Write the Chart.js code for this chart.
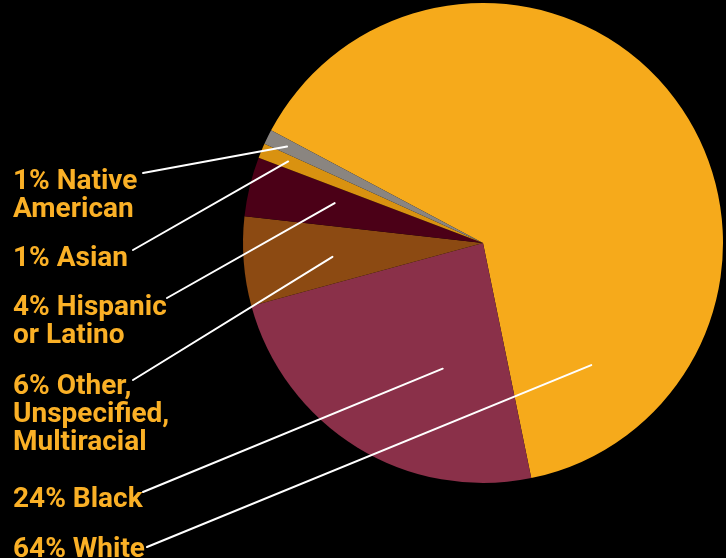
<!DOCTYPE html>
<html>
<head>
<meta charset="utf-8">
<script src="https://cdn.jsdelivr.net/npm/chart.js@4.4.1/dist/chart.umd.min.js"></script>
<style>
  html, body { margin: 0; padding: 0; background: #000; }
  #wrap { width: 726px; height: 558px; position: relative; }
</style>
</head>
<body>
<div id="wrap"><canvas id="race-chart"></canvas></div>
<script>
// data, in drawing order (clockwise from the gray slice edge)
const categories = ["White", "Black", "Other, Unspecified, Multiracial", "Hispanic or Latino", "Asian", "Native American"];
const shares = [64, 24, 6, 4, 1, 1];
const labelLines = [["64% White"], ["24% Black"], ["6% Other,", "Unspecified,", "Multiracial"], ["4% Hispanic", "or Latino"], ["1% Asian"], ["1% Native", "American"]];
const sliceColors = ["#F6AA1B", "#8A3049", "#8C4A12", "#4B0017", "#D99210", "#8A8580"];

// where each label sits on the left and where its leader line hits the slice
const labelLayout = [
  { x: 13, y: 557, lineFrom: [147, 547], t: 0.87, r: 0.68 },
  { x: 13, y: 507, lineFrom: [143, 492], t: 0.34, r: 0.55 },
  { x: 13, y: 394, lineFrom: [133, 380], t: 0.46, r: 0.63 },
  { x: 13, y: 315, lineFrom: [167, 298], t: 0.6, r: 0.64 },
  { x: 13, y: 266, lineFrom: [133, 250], t: 0.53, r: 0.88 },
  { x: 13, y: 189, lineFrom: [143, 173], t: 0.5, r: 0.91 }
];

const calloutPlugin = {
  id: "callouts",
  beforeDraw(chart) {
    const c = chart.ctx;
    c.save();
    c.fillStyle = "#000";
    c.fillRect(0, 0, chart.width, chart.height);
    c.restore();
  },
  afterDraw(chart) {
    const c = chart.ctx;
    const arcs = chart.getDatasetMeta(0).data;
    c.save();
    c.strokeStyle = "#fff";
    c.lineWidth = 2;
    c.lineCap = "round";
    arcs.forEach((arc, i) => {
      const lay = labelLayout[i];
      const a = arc.startAngle + lay.t * (arc.endAngle - arc.startAngle);
      const rr = arc.outerRadius * lay.r;
      c.beginPath();
      c.moveTo(lay.lineFrom[0], lay.lineFrom[1]);
      c.lineTo(arc.x + Math.cos(a) * rr, arc.y + Math.sin(a) * rr);
      c.stroke();
    });
    c.fillStyle = "#FAB026";
    c.font = "bold 28px Roboto";
    c.textBaseline = "alphabetic";
    labelLines.forEach((lines, i) => {
      lines.forEach((ln, j) => c.fillText(ln, labelLayout[i].x, labelLayout[i].y + j * 28));
    });
    c.restore();
  }
};

function draw() {
  new Chart(document.getElementById("race-chart"), {
    type: "pie",
    data: {
      labels: categories,
      datasets: [{ data: shares, backgroundColor: sliceColors, borderWidth: 0 }]
    },
    options: {
      responsive: true,
      maintainAspectRatio: false,
      animation: false,
      rotation: -62,
      layout: { padding: { left: 243, right: 3, top: 3, bottom: 75 } },
      plugins: { legend: { display: false }, tooltip: { enabled: false } }
    },
    plugins: [calloutPlugin]
  });
}

document.fonts.load("bold 28px Roboto").then(draw, draw);
</script>
</body>
</html>
